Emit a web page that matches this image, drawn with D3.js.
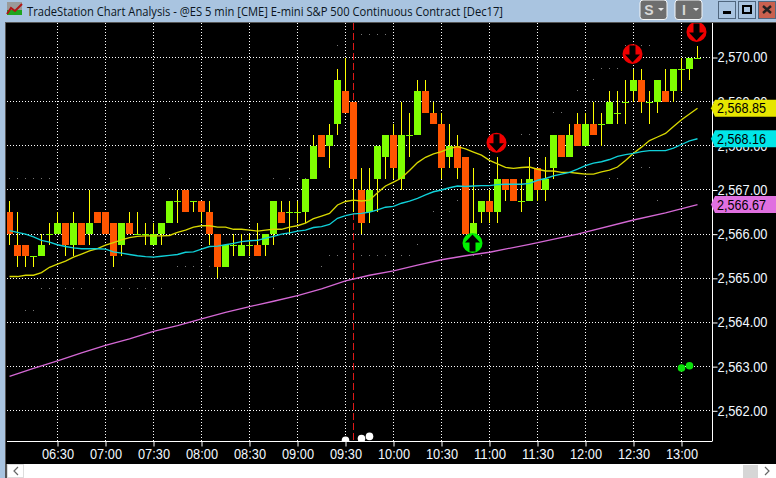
<!DOCTYPE html>
<html><head><meta charset="utf-8">
<script src="https://cdn.jsdelivr.net/npm/d3@7/dist/d3.min.js"></script>
<style>html,body{margin:0;padding:0;background:#a9c4e0;overflow:hidden}svg{display:block}
text{font-family:"Liberation Sans",Arial,sans-serif}</style></head><body><div id="c"></div>
<script>
const titleText = "TradeStation Chart Analysis - @ES 5 min [CME] E-mini S&P 500 Continuous Contract [Dec17]";
const timeLabels = ["06:30","07:00","07:30","08:00","08:30","09:00","09:30","10:00","10:30","11:00","11:30","12:00","12:30","13:00"];
const timeTickBars = [6,12,18,24,30,36,42,48,54,60,66,72,78,84];
const priceTicks = [2562,2563,2564,2565,2566,2567,2568,2569,2570];

const opens = [2566.5,2565.75,2565.75,2565.5,2565.5,2566,2566,2566.25,2565.75,2566.25,2566,2566.5,2566.5,2566.25,2565.75,2566.25,2566,2566,2565.75,2566,2566.25,2566.75,2567,2566.75,2566.75,2566.5,2566,2565.25,2565.75,2565.5,2565.75,2565.75,2565.75,2566,2566.5,2566.5,2566.5,2566.5,2567.25,2568.25,2568,2568.5,2569.25,2569,2567,2566.5,2567.25,2567.75,2568.25,2567.25,2568.25,2568.25,2569.25,2568.75,2568.5,2567.75,2568,2567.75,2566,2566.5,2566.75,2566.5,2567.25,2567.25,2566.75,2566.75,2567.5,2567,2567.5,2568.25,2567.75,2568.5,2568,2568.5,2568.5,2568.5,2568.75,2569,2569.25,2569.5,2569,2569,2569.25,2569.25,2569.75,2569.75,2570];
const highs = [2566.75,2566.5,2565.75,2565.5,2566,2566.25,2566.5,2566.25,2566.5,2566.25,2567,2566.5,2566.5,2566.25,2566.25,2566.5,2566.5,2566.25,2566.25,2566.25,2566.75,2567,2567,2566.75,2566.75,2566.75,2566,2565.75,2566,2566,2566,2566.25,2566,2566.75,2566.75,2566.75,2566.75,2567.25,2568.25,2568.25,2568.5,2569.75,2570,2569,2567.5,2567.5,2568,2568.25,2568.5,2569,2568.75,2569.5,2569.5,2569,2568.75,2568.5,2568.25,2567.75,2567.5,2566.75,2567,2567.75,2567.25,2567.25,2567.25,2567.75,2567.5,2567.75,2568.25,2568.25,2568.5,2568.75,2568.75,2569,2568.75,2569.25,2569.25,2569.5,2569.75,2569.75,2569.25,2569.5,2569.75,2569.75,2570,2570,2570.25];
const lows = [2565.75,2565.25,2565.25,2565.25,2565.5,2565.75,2566,2565.5,2565.5,2565.75,2565.75,2566.25,2566,2565.25,2565.5,2566,2566,2565.75,2565.75,2565.75,2566.25,2566.25,2566.5,2566.5,2566.25,2565.75,2565,2565.25,2565.5,2565.5,2565.5,2565.5,2565.5,2565.75,2566.25,2566,2566.25,2566.25,2567.25,2567.75,2567.5,2568.25,2568.75,2566.5,2566,2566.25,2566.5,2567.25,2567.25,2567,2567.75,2568.25,2568.75,2568.5,2567.25,2567.5,2567.25,2566,2566,2566.25,2566.25,2566.25,2566.75,2566.75,2566.5,2566.75,2566.75,2566.75,2567.25,2567.75,2567.75,2568,2568,2568.25,2568,2568.5,2568.5,2568.5,2569,2568.75,2568.5,2568.75,2569,2569,2569.25,2569.5,2570];
const closes = [2566,2565.5,2565.5,2565.5,2565.75,2566,2566.25,2565.75,2566.25,2565.75,2566.25,2566.25,2566,2565.5,2566.25,2566,2566,2566,2566,2566.25,2566.75,2566.75,2566.5,2566.75,2566.5,2566,2565.25,2565.75,2565.75,2565.75,2565.75,2565.5,2566,2566.75,2566.25,2566.5,2566.5,2567.25,2568,2567.75,2568.25,2569.5,2568.75,2567.25,2566.25,2567,2568,2568.25,2567.5,2568.25,2568.25,2569.25,2568.75,2568.5,2567.5,2568,2567.5,2566,2566.25,2566.75,2566.5,2567.25,2567,2566.75,2566.75,2567.25,2567,2567.25,2568.25,2567.75,2568.25,2568,2568.5,2568.25,2568.5,2569,2568.75,2569,2569.5,2569,2569,2569.5,2569,2569.75,2569.75,2570,2570];

const yellowMA = [2565.04,2565.04,2565.07,2565.07,2565.13,2565.25,2565.32,2565.39,2565.48,2565.55,2565.62,2565.67,2565.75,2565.81,2565.87,2565.92,2565.95,2565.96,2565.96,2565.96,2565.97,2566.04,2566.09,2566.16,2566.19,2566.19,2566.16,2566.16,2566.11,2566.11,2566.09,2566.07,2566.09,2566.11,2566.11,2566.16,2566.19,2566.25,2566.35,2566.41,2566.47,2566.66,2566.74,2566.77,2566.75,2566.77,2566.94,2567.09,2567.18,2567.27,2567.44,2567.62,2567.74,2567.82,2567.87,2567.94,2567.98,2567.93,2567.86,2567.79,2567.67,2567.59,2567.51,2567.49,2567.51,2567.52,2567.47,2567.43,2567.43,2567.40,2567.40,2567.38,2567.36,2567.36,2567.41,2567.45,2567.52,2567.67,2567.83,2567.97,2568.12,2568.20,2568.28,2568.44,2568.59,2568.72,2568.85];
const cyanMA = [2566.08,2566.04,2566.00,2565.94,2565.86,2565.82,2565.76,2565.72,2565.69,2565.67,2565.67,2565.67,2565.66,2565.60,2565.57,2565.54,2565.51,2565.49,2565.48,2565.50,2565.52,2565.54,2565.59,2565.60,2565.66,2565.72,2565.73,2565.76,2565.79,2565.83,2565.85,2565.86,2565.91,2565.95,2566.00,2566.03,2566.07,2566.09,2566.15,2566.17,2566.22,2566.36,2566.42,2566.46,2566.47,2566.50,2566.55,2566.61,2566.63,2566.70,2566.75,2566.81,2566.89,2566.96,2567.00,2567.05,2567.09,2567.08,2567.09,2567.10,2567.10,2567.12,2567.13,2567.13,2567.13,2567.15,2567.22,2567.26,2567.32,2567.36,2567.40,2567.47,2567.55,2567.61,2567.64,2567.69,2567.76,2567.80,2567.83,2567.87,2567.89,2567.89,2567.89,2567.95,2568.03,2568.11,2568.16];
const magentaBars = [0,3,6,9,12,15,18,21,24,27,30,33,36,39,42,45,48,51,54,57,60,65,71,78,82,86];
const magentaMA = [2562.78,2562.96,2563.13,2563.31,2563.48,2563.63,2563.80,2563.93,2564.08,2564.23,2564.36,2564.48,2564.61,2564.76,2564.94,2565.07,2565.17,2565.30,2565.42,2565.51,2565.59,2565.77,2566.00,2566.32,2566.48,2566.67];

const buyBars = [58], buyPrices = [2565.8];
const sellBars = [61,78,86], sellPrices = [2568.07,2570.08,2570.58];
const whiteDotBars = [42,44,45], whiteDotPrices = [2561.33,2561.37,2561.42];
const greenDotBars = [84,85], greenDotPrices = [2562.97,2563.02];
const cursorBar = [43];

const faintBars = [0,1,2,3,4,5,20,29,33,35,36,37,4,5,6,7,8,9,13,14,15,16,17,19,2,3,21,22,23,25,26,27,28,29,40,41,44,45,46,47,49,50,58,59,39,33,29,30,31,32,51,44,45,46,47,41,37,74,73,76,75,72,71,68,69,64,65,79,80,75,76,81,56,53,55,77,78,79,80];
const faintPrices = [2567.25,2567.25,2567.25,2567.25,2567.25,2567.25,2567.25,2567.25,2567.25,2567.25,2567.25,2567.25,2564.75,2564.75,2564.75,2564.75,2564.75,2564.75,2564.75,2564.75,2564.75,2564.75,2564.75,2564.75,2564.25,2564.25,2565.25,2565.25,2565.25,2565.25,2565,2565,2565,2565,2565.5,2565.5,2565.5,2565.5,2565.5,2565.5,2565.5,2565.5,2565.5,2565.5,2565.25,2564.75,2565,2565,2565,2565,2565.75,2570.5,2570.5,2570.5,2570.5,2570.25,2566.75,2569.75,2569.5,2569.75,2569.75,2569.25,2569.25,2568.75,2568.75,2568.25,2568.25,2567.5,2567.5,2567.25,2567.25,2566.75,2566.75,2566.5,2566.5,2570.25,2570.25,2570.25,2570.25];

const tags = [
  {price: yellowMA[86],  fill:"#e6e600"},
  {price: cyanMA[86],    fill:"#00e6e8"},
  {price: magentaMA[25], fill:"#e070e0"}
];

const W=776,H=478;
const svg=d3.select("#c").append("svg").attr("width",W).attr("height",H);
const x=d3.scaleLinear().domain([0,86]).range([9.5,697.5]);
const y=d3.scaleLinear().domain([2562,2570]).range([410.8,57.5]);
const yr=v=>Math.round(y(v));

// window chrome
svg.append("rect").attr("width",W).attr("height",H).attr("fill","#a9c4e0");
svg.append("rect").attr("x",5).attr("y",22).attr("width",W-5).attr("height",H-22).attr("fill","#555");
svg.append("rect").attr("x",6).attr("y",23).attr("width",W-6).attr("height",441).attr("fill","#000");
svg.append("rect").attr("x",7).attr("y",464).attr("width",W-7).attr("height",14).attr("fill","#fff");
svg.append("text").attr("x",27).attr("y",15.5).attr("font-size",13).attr("fill","#0a1420")
  .style("font-family","'Open Sans'").attr("textLength",476).attr("lengthAdjust","spacingAndGlyphs").text(titleText);
// title icon
svg.append("rect").attr("x",7).attr("y",2).attr("width",15).attr("height",13).attr("fill","#9a9a9a");
svg.append("rect").attr("x",7).attr("y",10).attr("width",15).attr("height",5).attr("fill","#1fa51f");
svg.append("path").attr("d","M7 14L11 8L15 11L22 4").attr("fill","none").attr("stroke","#b01515").attr("stroke-width",2);
// toolbar buttons
[[640,"S"],[675,"I"]].forEach(([bx,t])=>{
  svg.append("rect").attr("x",bx).attr("y",0).attr("width",27).attr("height",19.5).attr("rx",3).attr("fill","#6e6e6e").attr("stroke","#f4f6f8").attr("stroke-width",1);
  svg.append("text").attr("x",bx+9).attr("y",14.5).attr("text-anchor","middle").attr("font-size",14).attr("font-weight","bold").attr("fill","#d8d8d8").text(t);
  svg.append("path").attr("d",`M${bx+18} 8h6l-3 3z`).attr("fill","#e8e8e8");
});
[[718.5,"#a9c4e0"],[738.5,"#a9c4e0"],[758.5,"#c9614f"]].forEach(([bx,f])=>{
  svg.append("rect").attr("x",bx).attr("y",1.5).attr("width",17).attr("height",17).attr("fill",f).attr("stroke","#50677f");
});
svg.append("rect").attr("x",723).attr("y",11).attr("width",8).attr("height",3).attr("fill","#000");
svg.append("rect").attr("x",743).attr("y",6).attr("width",8).attr("height",7).attr("fill","none").attr("stroke","#000").attr("stroke-width",2);
svg.append("path").attr("d","M763 6l8 7M771 6l-8 7").attr("stroke","#222").attr("stroke-width",2.4);
// scroll bar
svg.append("rect").attr("x",7.5).attr("y",464.5).attr("width",16).attr("height",13).attr("fill","#fff").attr("stroke","#ddd");
svg.append("path").attr("d","M18 467l-4 4 4 4").attr("fill","none").attr("stroke","#666").attr("stroke-width",1.2);
svg.append("rect").attr("x",743).attr("y",465).attr("width",15).attr("height",13).attr("fill","#d6d6d6");
svg.append("path").attr("d","M765 467l4 4-4 4").attr("fill","none").attr("stroke","#666").attr("stroke-width",1.2);

const defs=svg.append("defs");
defs.append("clipPath").attr("id","plot").append("rect").attr("x",7).attr("y",23).attr("width",705).attr("height",418);

const plot=svg.append("g").attr("clip-path","url(#plot)");
// grid
const grid=plot.append("g").attr("stroke","#fff").attr("stroke-dasharray","1 2").attr("stroke-width",1);
grid.selectAll("line.h").data(priceTicks).join("line").attr("x1",7).attr("x2",712)
  .attr("y1",d=>Math.floor(y(d))+.5).attr("y2",d=>Math.floor(y(d))+.5);
grid.selectAll("line.v").data(timeTickBars).join("line").attr("y1",23).attr("y2",441)
  .attr("x1",d=>x(d)).attr("x2",d=>x(d));
// faint dots
plot.append("g").selectAll("rect").data(faintBars).join("rect")
  .attr("x",d=>Math.floor(x(d))).attr("y",(d,i)=>yr(faintPrices[i])-1).attr("width",1).attr("height",1).attr("fill","#777");
// cursor
plot.selectAll("line.cur").data(cursorBar).join("line").attr("x1",d=>x(d)).attr("x2",d=>x(d)).attr("y1",23).attr("y2",441)
  .attr("stroke","#e01818").attr("stroke-dasharray","7 3");
// candles
const bars=d3.range(opens.length);
const wick="#ffff00", up="#7fff00", down="#ff5500";
plot.append("g").selectAll("rect").data(bars).join("rect")
  .attr("x",i=>x(i)-.5).attr("width",1).attr("y",i=>yr(highs[i])).attr("height",i=>Math.max(1,yr(lows[i])-yr(highs[i])))
  .attr("fill",wick);
plot.append("g").selectAll("rect").data(bars).join("rect")
  .attr("x",i=>x(i)-3.5).attr("width",7)
  .attr("y",i=>yr(Math.max(opens[i],closes[i])))
  .attr("height",i=>Math.max(1,Math.abs(yr(opens[i])-yr(closes[i]))))
  .attr("fill",i=>closes[i]<opens[i]?down:up);
// moving averages
const line=d3.line().x(d=>x(d[0])).y(d=>y(d[1]));
plot.append("path").attr("d",line(yellowMA.map((v,i)=>[i,v]))).attr("fill","none").attr("stroke","#d8d800").attr("stroke-width",1.35);
plot.append("path").attr("d",line(cyanMA.map((v,i)=>[i,v]))).attr("fill","none").attr("stroke","#10d0d8").attr("stroke-width",1.35);
plot.append("path").attr("d",line(magentaMA.map((v,i)=>[magentaBars[i],v]))).attr("fill","none").attr("stroke","#d468d4").attr("stroke-width",1.35);
// dots
plot.selectAll("circle.w").data(whiteDotBars).join("circle").attr("cx",d=>x(d)).attr("cy",(d,i)=>y(whiteDotPrices[i])).attr("r",3.8).attr("fill","#fff");
plot.selectAll("circle.g").data(greenDotBars).join("circle").attr("cx",d=>x(d)).attr("cy",(d,i)=>y(greenDotPrices[i])).attr("r",3.8).attr("fill","#0be00b");
// signals
const sig=(bs,ps,col,dir)=>{
  const g=plot.append("g").selectAll("g").data(bs).join("g").attr("transform",(d,i)=>`translate(${x(d)-1},${y(ps[i])})`);
  g.append("circle").attr("r",10).attr("fill",col);
  g.append("path").attr("d","M0,-8.5L7.5,-0.5L3,-0.5L3,8.5L-3,8.5L-3,-0.5L-7.5,-0.5Z").attr("fill","#000").attr("transform",dir<0?"scale(1,-1)":null);
};
sig(buyBars,buyPrices,"#00f000",1);
sig(sellBars,sellPrices,"#f00000",-1);

// axes
const axisStyle=g=>{g.selectAll("path,line").attr("stroke","#fff");g.selectAll("text").attr("fill","#f2f8ff").attr("font-size",14).attr("lengthAdjust","spacingAndGlyphs").style("font-family","'Liberation Sans'");};
svg.append("g").attr("transform","translate(712.5,0)")
  .call(d3.axisRight(y).tickValues(priceTicks).tickSize(5).tickPadding(0).tickSizeOuter(0).tickFormat(d3.format(",.2f")))
  .call(axisStyle).call(g=>{g.select(".domain").attr("d","M0,23V441");g.selectAll("text").attr("textLength",50);});
svg.append("g").attr("transform","translate(0,441.5)")
  .call(d3.axisBottom(x).tickValues(timeTickBars).tickSize(5).tickPadding(3).tickSizeOuter(0).tickFormat((d,i)=>timeLabels[i]))
  .call(axisStyle).call(g=>{g.select(".domain").attr("d","M7,0H712.5");g.selectAll("text").attr("textLength",32);});
// price tags
const tag=svg.append("g").selectAll("g").data(tags).join("g").attr("transform",d=>`translate(0,${y(d.price)})`);
tag.append("path").attr("d","M711,0L715,-8.5H776V8.5H715Z").attr("fill",d=>d.fill);
tag.append("text").attr("x",717).attr("y",5).attr("font-size",14).attr("fill","#000").attr("textLength",49).attr("lengthAdjust","spacingAndGlyphs").text(d=>d3.format(",.2f")(d.price));
</script></body></html>
